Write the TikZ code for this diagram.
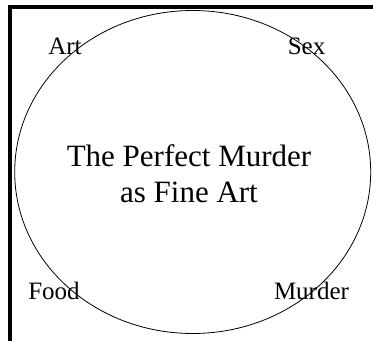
\documentclass[tikz,border=0pt]{standalone}
\usepackage{fontspec}
\setmainfont{Liberation Serif}
\usepackage{tikz}
\usetikzlibrary{positioning, shapes.geometric}
\tikzset{
  corner/.style = {font=\fontsize{25}{29}\selectfont, anchor=base, inner sep=0pt},
  title/.style  = {font=\fontsize{31}{36}\selectfont, align=center, inner sep=0pt},
  oval/.style   = {draw, ellipse, line width=0.8pt, inner sep=0pt,
                   minimum width=356pt, minimum height=323pt},
  frame/.style  = {line width=4pt},
}

\begin{document}
\begin{tikzpicture}[x=1pt, y=1pt]

% ── canvas: 373 x 341, origin bottom left ──────────────────
\useasboundingbox (0,0) rectangle (373,341);

% ── frame: left and top edges only ─────────────────────────
\coordinate (fr-bl) at (10.3, 0);
\coordinate (fr-tl) at (10.3, 334);
\coordinate (fr-tr) at (373, 334);
\draw[frame] (fr-bl) -- (fr-tl) -- (fr-tr);

% ── the big oval ───────────────────────────────────────────
\node[oval] (oval) at (192.7, 169) {};

% ── centre title ───────────────────────────────────────────
\node[title] (ttl) at (189, 167.5)
  {The Perfect Murder\\as Fine Art};

% ── corner words ───────────────────────────────────────────
\node[corner] (art)    at (65,  286) {Art};
\node[corner] (sex)    at (306.5, 286) {Sex};
\node[corner] (food)   at (54,  42) {Food};
\node[corner] (murder) at (311.5, 42) {Murder};

\end{tikzpicture}
\end{document}
